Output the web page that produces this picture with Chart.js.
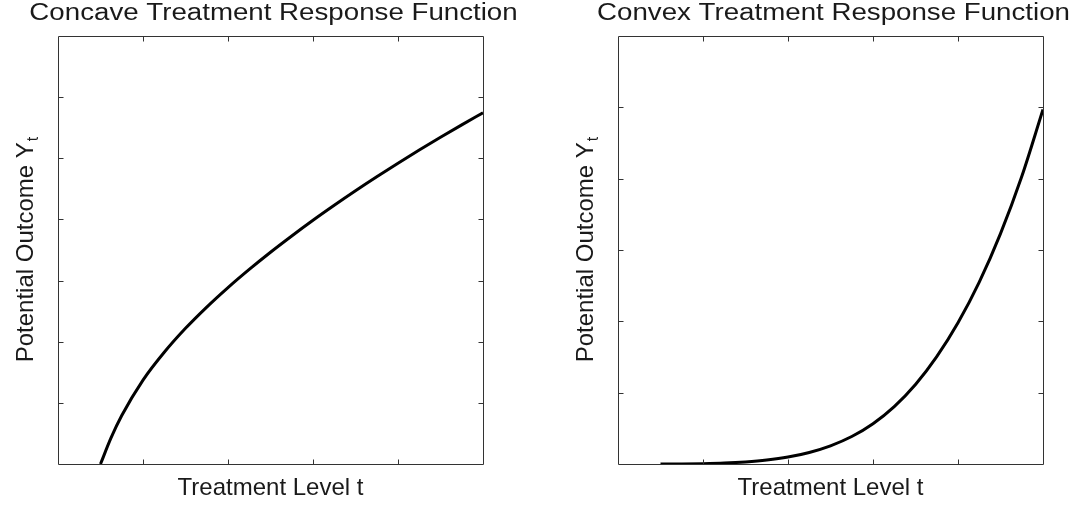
<!DOCTYPE html>
<html>
<head>
<meta charset="utf-8">
<title>Concave and Convex Treatment Response Functions</title>
<script src="https://cdn.jsdelivr.net/npm/chart.js@4.4.0/dist/chart.umd.min.js"></script>
<style>
  html, body { margin: 0; padding: 0; background: #fff; overflow: hidden; }
  .panel { position: absolute; top: 0; width: 541px; height: 505px; }
  #leftPanel { left: 0; }
  #rightPanel { left: 560px; }
</style>
</head>
<body>
<div class="panel" id="leftPanel"><canvas id="concaveChart"></canvas></div>
<div class="panel" id="rightPanel"><canvas id="convexChart"></canvas></div>
<script>
// --- DATA ---
const concaveT = [0.5, 0.625, 0.75, 1, 1.25, 1.5, 1.75, 2, 2.25, 2.5, 2.75, 3, 3.25, 3.5, 3.75, 4, 4.25, 4.5, 4.75, 5];
const concaveY = [0, 0.43, 0.792, 1.372, 1.827, 2.219, 2.567, 2.886, 3.183, 3.464, 3.73, 3.986, 4.231, 4.468, 4.697, 4.919, 5.134, 5.343, 5.546, 5.744];

const convexT = [0.5, 0.75, 1, 1.25, 1.5, 1.75, 2, 2.25, 2.5, 2.75, 3, 3.25, 3.5, 3.75, 4, 4.25, 4.5, 4.75, 5];
const convexY = [0, 0.001, 0.005, 0.013, 0.029, 0.055, 0.097, 0.162, 0.255, 0.385, 0.565, 0.805, 1.115, 1.505, 1.98, 2.55, 3.23, 4.03, 4.97];

const xRange = [0, 5];
const xTicks = [1, 2, 3, 4];
const concaveYRange = [0, 7];
const concaveYTicks = [1, 2, 3, 4, 5, 6];
const convexYRange = [0, 6];
const convexYTicks = [1, 2, 3, 4, 5];

const fontFamily = '"Liberation Sans", Arial, Helvetica, sans-serif';
const textColor = "#1a1a1a";
const frameColor = "#333";
const tickLen = 5;

// draws the title, the box, the inward ticks on all four sides and the y label (with subscript t)
function framePlugin(titleText, yTicks) {
  return {
    id: "frame",
    afterDraw(chart) {
      const { ctx, chartArea: a, scales } = chart;
      const x = scales.x;
      const y = scales.y;
      const L = Math.round(a.left) + 0.5;
      const R = Math.round(a.right) + 0.5;
      const T = Math.round(a.top) + 0.5;
      const B = Math.round(a.bottom) + 0.5;

      ctx.save();
      ctx.strokeStyle = frameColor;
      ctx.lineWidth = 1;
      ctx.beginPath();
      ctx.rect(L, T, R - L, B - T);
      xTicks.forEach((v) => {
        const px = Math.round(x.getPixelForValue(v)) + 0.5;
        ctx.moveTo(px, B);
        ctx.lineTo(px, B - tickLen);
        ctx.moveTo(px, T);
        ctx.lineTo(px, T + tickLen);
      });
      yTicks.forEach((v) => {
        const py = Math.round(y.getPixelForValue(v)) + 0.5;
        ctx.moveTo(L, py);
        ctx.lineTo(L + tickLen, py);
        ctx.moveTo(R, py);
        ctx.lineTo(R - tickLen, py);
      });
      ctx.stroke();
      ctx.restore();

      // title, wider than the plain font (as in the original figure)
      ctx.save();
      ctx.fillStyle = textColor;
      ctx.font = "23.5px " + fontFamily;
      ctx.textAlign = "center";
      ctx.textBaseline = "alphabetic";
      ctx.translate((a.left + a.right) / 2 + 3, 20);
      ctx.scale(1.178, 1);
      ctx.fillText(titleText, 0, 0);
      ctx.restore();

      // y axis label: "Potential Outcome Y" + subscript "t"
      ctx.save();
      const main = "Potential Outcome Y";
      ctx.font = "24px " + fontFamily;
      const wMain = ctx.measureText(main).width;
      ctx.font = "16px " + fontFamily;
      const wSub = ctx.measureText("t").width;
      ctx.fillStyle = textColor;
      ctx.textAlign = "left";
      ctx.textBaseline = "alphabetic";
      ctx.translate(33, (a.top + a.bottom) / 2);
      ctx.rotate(-Math.PI / 2);
      const start = -(wMain + wSub) / 2;
      ctx.font = "24px " + fontFamily;
      ctx.fillText(main, start, 0);
      ctx.font = "16px " + fontFamily;
      ctx.fillText("t", start + wMain + 1, 5);
      ctx.restore();
    },
  };
}

function hiddenAxis(range, extra) {
  return Object.assign(
    {
      type: "linear",
      min: range[0],
      max: range[1],
      grid: { display: false },
      border: { display: false },
      ticks: { display: false },
    },
    extra
  );
}

function makeChart(canvasId, titleText, ts, ys, yRange, yTicks) {
  const points = ts.map((t, i) => ({ x: t, y: ys[i] }));
  return new Chart(document.getElementById(canvasId), {
    type: "line",
    data: {
      datasets: [
        {
          data: points,
          borderColor: "#000",
          borderWidth: 3,
          pointRadius: 0,
          fill: false,
          cubicInterpolationMode: "monotone",
        },
      ],
    },
    options: {
      responsive: true,
      maintainAspectRatio: false,
      animation: false,
      layout: { padding: { top: 36, left: 0, right: 0, bottom: 0 } },
      scales: {
        x: hiddenAxis(xRange, {
          position: "bottom",
          title: {
            display: true,
            text: "Treatment Level t",
            color: textColor,
            font: { family: fontFamily, size: 24, lineHeight: 1.2 },
            padding: { top: 0, bottom: 2 },
          },
          afterFit: (s) => { s.height = 41; },
        }),
        y: hiddenAxis(yRange, {
          position: "left",
          afterFit: (s) => { s.width = 58; },
        }),
        // empty axis on the right, only keeps the plot centred in its panel
        yRight: hiddenAxis(yRange, {
          position: "right",
          afterFit: (s) => { s.width = 58; },
        }),
      },
      plugins: {
        legend: { display: false },
        tooltip: { enabled: false },
        title: { display: false },
      },
    },
    plugins: [framePlugin(titleText, yTicks)],
  });
}

makeChart("concaveChart", "Concave Treatment Response Function", concaveT, concaveY, concaveYRange, concaveYTicks);
makeChart("convexChart", "Convex Treatment Response Function", convexT, convexY, convexYRange, convexYTicks);
</script>
</body>
</html>
